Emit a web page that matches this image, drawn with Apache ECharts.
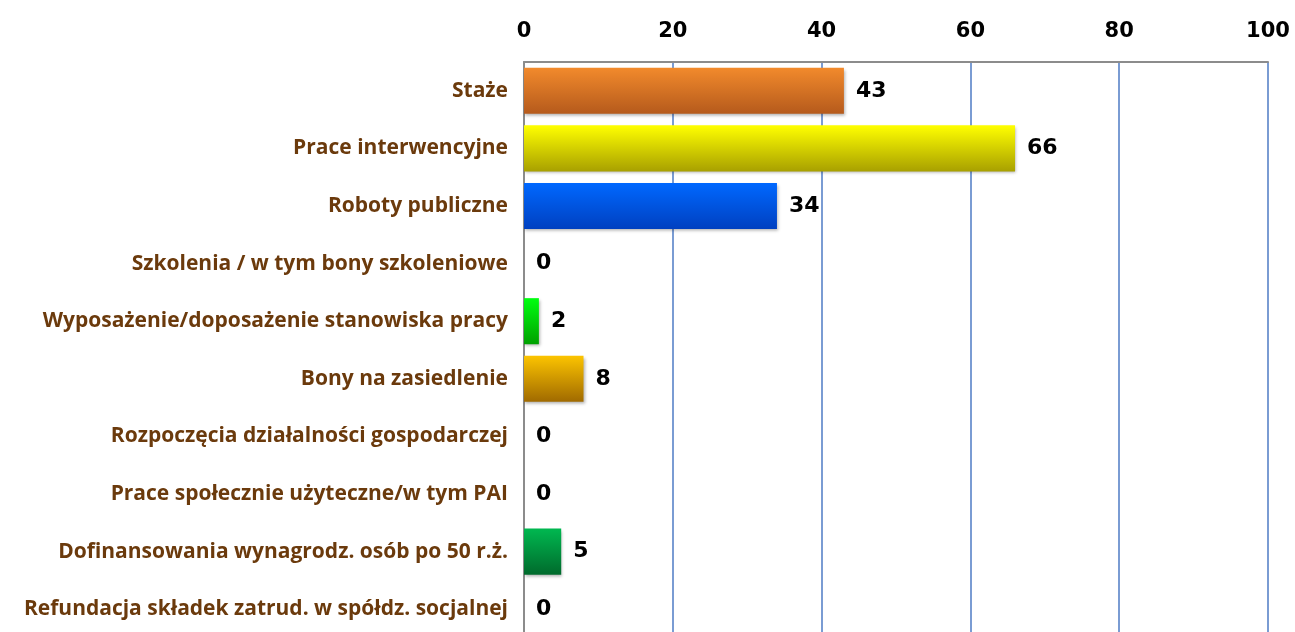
<!DOCTYPE html>
<html>
<head>
<meta charset="utf-8">
<script src="https://cdn.jsdelivr.net/npm/echarts@6/dist/echarts.min.js"></script>
<style>
  html, body { margin: 0; padding: 0; background: #fff; }
  #chart { width: 1295px; height: 632px; }
</style>
</head>
<body>
<div id="chart"></div>
<script>
  // kategorie od góry do dołu
  var categories = [
    'Staże',
    'Prace interwencyjne',
    'Roboty publiczne',
    'Szkolenia / w tym bony szkoleniowe',
    'Wyposażenie/doposażenie stanowiska pracy',
    'Bony na zasiedlenie',
    'Rozpoczęcia działalności gospodarczej',
    'Prace społecznie użyteczne/w tym PAI',
    'Dofinansowania wynagrodz. osób po 50 r.ż.',
    'Refundacja składek zatrud. w spółdz. socjalnej'
  ]
  var values = [43, 66, 34, 0, 2, 8, 0, 0, 5, 0]
  // kolory słupków: góra / dół gradientu
  var topColors = ['#f28a2c', '#ffff00', '#0068ff', '#d0d0d0', '#00ff10', '#fcc400', '#d0d0d0', '#d0d0d0', '#00b850', '#d0d0d0']
  var bottomColors = ['#b55a1c', '#a8a000', '#0040c0', '#a0a0a0', '#00a000', '#a06a00', '#a0a0a0', '#a0a0a0', '#006a2c', '#a0a0a0']

  var chart = echarts.init(document.getElementById('chart'))

  var barData = values.map(function (v, i) {
    return {
      value: v,
      itemStyle: {
        color: new echarts.graphic.LinearGradient(0, 0, 0, 1, [
          { offset: 0, color: topColors[i] },
          { offset: 1, color: bottomColors[i] }
        ])
      }
    }
  })

  var option = {
    animation: false,
    grid: {
      left: 524,
      width: 744,
      top: 62,
      height: 576,
      outerBoundsMode: 'none',
      containLabel: false
    },
    xAxis: {
      type: 'value',
      position: 'top',
      min: 0,
      max: 100,
      interval: 20,
      axisLine: { show: true, lineStyle: { color: '#8c8c8c', width: 2 } },
      axisTick: { show: false },
      axisLabel: {
        color: '#000',
        fontFamily: 'DejaVu Sans',
        fontWeight: 'bold',
        fontSize: 21,
        margin: 20
      },
      splitLine: { show: true, lineStyle: { color: '#7a9cd3', width: 2 } }
    },
    yAxis: {
      type: 'category',
      inverse: true,
      data: categories,
      axisLine: { show: true, lineStyle: { color: '#8c8c8c', width: 2 } },
      axisTick: { show: false },
      axisLabel: {
        color: '#6b3a0c',
        fontFamily: 'Open Sans',
        fontWeight: 'bold',
        fontSize: 21,
        margin: 16,
        padding: [4, 0, 0, 0]
      }
    },
    series: [{
      type: 'bar',
      data: barData,
      barCategoryGap: '20%',
      itemStyle: {
        shadowColor: 'rgba(0,0,0,0.3)',
        shadowBlur: 3,
        shadowOffsetX: 1,
        shadowOffsetY: 2
      },
      label: {
        show: true,
        position: 'right',
        distance: 12,
        padding: [4, 0, 0, 0],
        color: '#000',
        fontFamily: 'DejaVu Sans',
        fontWeight: 'bold',
        fontSize: 22
      }
    }]
  }

  chart.setOption(option)
</script>
</body>
</html>
